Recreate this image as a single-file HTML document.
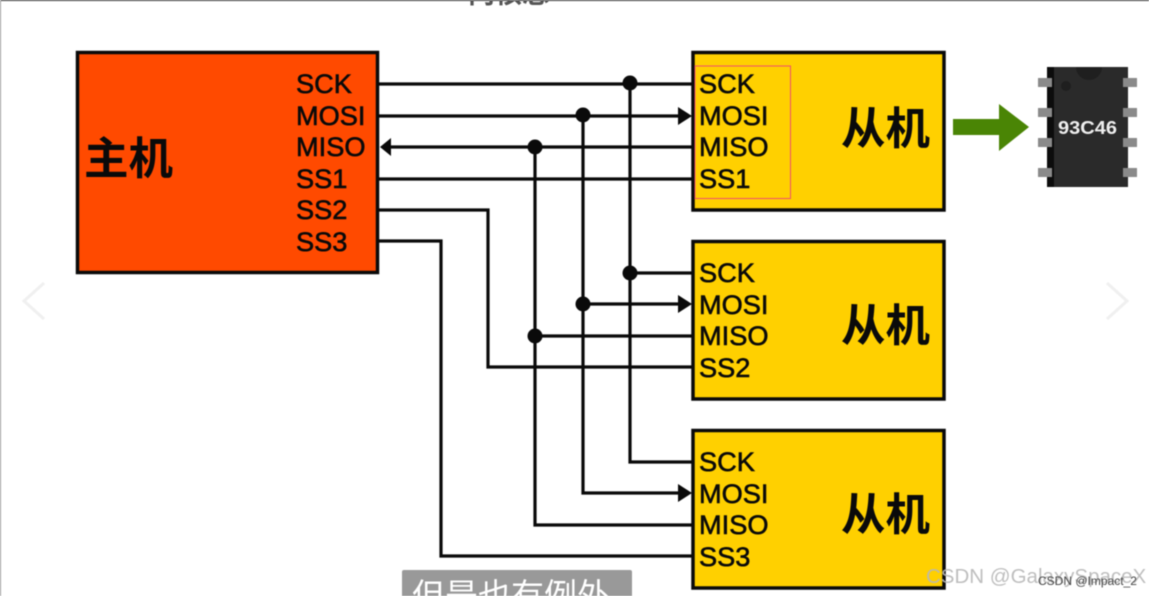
<!DOCTYPE html>
<html><head><meta charset="utf-8"><style>
html,body{margin:0;padding:0;width:1149px;height:596px;overflow:hidden;background:#fff}
svg{display:block;filter:blur(.4px)}
text{font-family:"Liberation Sans","Noto Sans CJK SC",sans-serif}
.l{font-size:27.2px;fill:#0a0a0a;stroke:#0a0a0a;stroke-width:.6px}
.c{font-size:44.500px;font-weight:700;fill:#0a0a0a}
.w{fill:none;stroke:#0a0a0a;stroke-width:3.200}
.b{stroke:#0a0a0a;stroke-width:3.500;fill:#ffd000}
</style></head><body>
<svg width="1149" height="596" viewBox="0 0 1149 596" xmlns="http://www.w3.org/2000/svg">
<rect width="1149" height="596" fill="#fff"/>
<rect x="0" y="0" width="1149" height="1" fill="#333"/>
<rect x="0" y="0" width="1" height="596" fill="#999"/>
<text x="468" y="3" font-size="27" font-weight="700" fill="#555">内核总</text>

<!-- wires -->
<g class="w">
<path d="M378 84H694"/><path d="M378 116H680"/><path d="M388 147H694"/><path d="M378 179H694"/>
<path d="M378 210H488V367H694"/><path d="M378 241H441V556H694"/>
<path d="M630 84V462H694"/><path d="M583 116V493H680"/><path d="M535 147V525H694"/>
<path d="M630 273H694"/><path d="M583 304H680"/><path d="M535 336H694"/>
</g>
<g fill="#0a0a0a">
<circle cx="630" cy="83" r="7.500"/><circle cx="583" cy="115" r="7.500"/><circle cx="535" cy="147" r="7.500"/>
<circle cx="630" cy="273" r="7.500"/><circle cx="583" cy="304" r="7.500"/><circle cx="535" cy="336" r="7.500"/>
<path d="M380 147L391 138V156Z"/>
<path d="M692 116L678 107V125Z"/><path d="M692 304L678 295V313Z"/><path d="M692 493L678 484V502Z"/>
</g>

<!-- master -->
<rect x="77.500" y="52.500" width="300" height="220" fill="#ff4a00" stroke="#0a0a0a" stroke-width="3.500"/>
<text class="c" x="84" y="174">主机</text>
<g class="l">
<text x="296" y="93">SCK</text><text x="296" y="125">MOSI</text><text x="296" y="156">MISO</text>
<text x="296" y="188">SS1</text><text x="296" y="219">SS2</text><text x="296" y="251">SS3</text>
</g>

<!-- slaves -->
<rect class="b" x="693" y="52.500" width="251" height="157.500"/>
<rect class="b" x="693" y="241.500" width="251" height="157.500"/>
<rect class="b" x="693" y="430.500" width="251" height="157.500"/>
<g class="c">
<text x="841" y="144">从机</text><text x="841" y="341">从机</text><text x="841" y="530">从机</text>
</g>
<g class="l">
<text x="699" y="93">SCK</text><text x="699" y="125">MOSI</text><text x="699" y="156">MISO</text><text x="699" y="188">SS1</text>
<text x="699" y="282">SCK</text><text x="699" y="314">MOSI</text><text x="699" y="345">MISO</text><text x="699" y="377">SS2</text>
<text x="699" y="471">SCK</text><text x="699" y="503">MOSI</text><text x="699" y="534">MISO</text><text x="699" y="566">SS3</text>
</g>
<rect x="695" y="66" width="95.500" height="132.500" fill="none" stroke="#f0506e" stroke-width="1"/>

<!-- green arrow -->
<path d="M953 119H999V104L1029 127L999 151V135H953Z" fill="#4a8505"/>

<!-- chip -->
<rect x="1047" y="67" width="81" height="120" fill="#2a2a2a"/>
<rect x="1047" y="67" width="7" height="120" fill="#0c0c0c"/>
<circle cx="1066" cy="86" r="5" fill="#1f1f1f"/>
<path d="M1076 67h26a13 13 0 0 1-26 0Z" fill="#1f1f1f"/>
<g fill="#8a8a8a">
<rect x="1038" y="78" width="14" height="9"/><rect x="1038" y="108" width="14" height="9"/><rect x="1038" y="138" width="14" height="9"/><rect x="1038" y="168" width="14" height="9"/>
<rect x="1123" y="78" width="14" height="9"/><rect x="1123" y="108" width="14" height="9"/><rect x="1123" y="138" width="14" height="9"/><rect x="1123" y="168" width="14" height="9"/>
</g>
<text x="1058" y="134" font-size="18.500" font-weight="700" fill="#eee" textLength="59" lengthAdjust="spacingAndGlyphs">93C46</text>

<!-- carousel arrows -->
<path d="M44 283L24 301L44 319" fill="none" stroke="#f0f0f0" stroke-width="3"/>
<path d="M1107 283L1127 301L1107 319" fill="none" stroke="#f0f0f0" stroke-width="3"/>

<!-- caption -->
<rect x="402" y="570" width="230" height="30" rx="2" fill="#999"/>
<text x="412" y="607" font-size="33" fill="#fff">但是也有例外</text>

<!-- watermark -->
<text x="926" y="583" font-size="20.500" fill="#b8b8b8" opacity=".9">CSDN @GalaxySpaceX</text>
<text x="1038" y="585" font-size="12" fill="#444">CSDN @Impact_2</text>
</svg>
</body></html>
